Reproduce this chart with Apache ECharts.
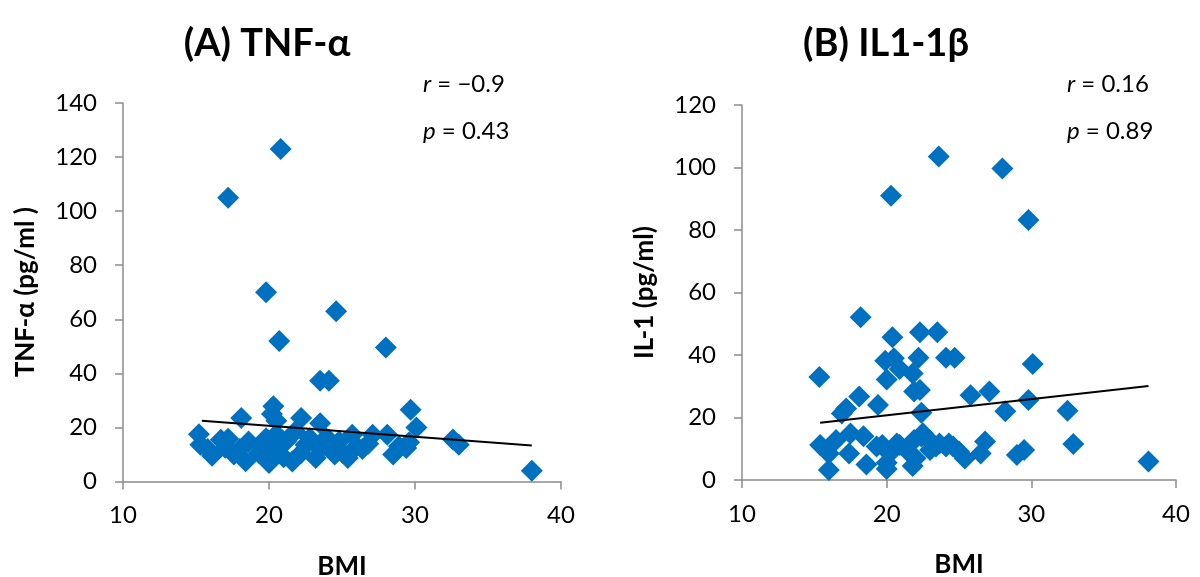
<!DOCTYPE html>
<html>
<head>
<meta charset="utf-8">
<script src="https://cdn.jsdelivr.net/npm/echarts@6/dist/echarts.min.js"></script>
<style>html,body{margin:0;padding:0;background:#fff}#c{width:1200px;height:577px}</style>
</head>
<body>
<div id="c"></div>
<script>
// ---- Data ----
const titleA = '(A) TNF-\u03b1';
const titleB = '(B) IL1-1\u03b2';
const xNameA = 'BMI';
const xNameB = 'BMI';
const yNameA = 'TNF-\u03b1 (pg/ml )';
const yNameB = 'IL-1 (pg/ml)';
const statsA = ['r = \u22120.9', 'p = 0.43'];
const statsB = ['r = 0.16', 'p = 0.89'];

// Panel A: [BMI, TNF-alpha]
const pointsA = [
  [20.8,123],[17.2,105],[19.8,70],[24.6,63],[20.7,52],[28.0,49.6],[23.5,37.3],[24.1,37.3],
  [20.3,27.8],[20.2,25],[18.1,23.5],[22.2,23.5],[23.5,21.5],[29.7,26.5],[30.1,20],[20.5,22.5],
  [15.2,17.5],[15.3,13.6],[15.8,12],[16.1,9.5],[16.7,15.4],[17.2,15.8],[17.6,10],[17.0,12.5],
  [18.4,7.5],[18.6,14.8],[18.0,12],[19.3,10.5],[19.8,16],[20.0,6.8],[19.5,13],[20.3,11],
  [20.7,13.6],[20.5,17.5],[21.0,9],[21.6,7.4],[21.8,18.5],[21.2,15],[22.5,13.6],[22.2,10.5],
  [22.8,16],[23.2,8.7],[23.5,12],[23.9,16.1],[24.1,15.4],[24.5,10],[24.8,14.8],[25.05,10.5],
  [25.4,8.7],[25.7,17.3],[26.0,13],[26.4,12],[26.8,14],[27.1,17.3],[28.1,17.3],[28.5,10],
  [28.9,13],[29.4,12.4],[29.6,14.5],[32.6,15.5],[33.0,13.6],[38.0,4]
];
const trendA = [[15.4,22.5],[38.0,13.3]];

// Panel B: [BMI, IL-1]
const pointsB = [
  [23.6,103.5],[28.0,99.7],[20.3,91],[29.8,83.2],[18.2,52.1],[20.4,45.7],[22.3,47.3],[23.5,47.3],
  [22.2,39.1],[24.1,39.1],[24.7,39.1],[30.1,37.1],[19.9,38.2],[20.5,39],[20.9,35.5],[20.0,32.2],
  [21.8,34.1],[22.3,28.8],[21.9,28.3],[15.35,33],[18.1,26.7],[19.4,24],[17.2,22.9],[16.9,21.3],
  [22.4,21.5],[25.8,27.1],[27.1,28.3],[28.2,22],[29.8,25.6],[32.5,22.2],[32.9,11.5],[38.1,5.9],
  [29.0,8],[29.5,9.6],[26.8,12.3],[26.5,8.5],[25.4,6.9],[25.0,9.1],[24.1,10.7],[24.6,10.7],
  [15.4,11.2],[16.0,3.2],[16.5,12.8],[16.0,8.5],[17.4,8.5],[17.5,14.9],[18.4,14],[18.6,5],
  [19.3,10.7],[20.0,3.5],[19.7,11.2],[20.2,8.5],[20.7,11.7],[20.9,11.2],[21.8,4.5],[21.9,12.8],
  [22.4,13.9],[22.5,15],[23.0,9.6],[23.4,10.7],[23.65,11.7],[24.3,11.7],[20.0,5.5],[21.5,9],
  [22.0,7],[23.0,12.5]
];
const trendB = [[15.4,18.3],[38.1,30.1]];

const xTicks = {min: 10, max: 40, interval: 10};
const yTicksA = {min: 0, max: 140, interval: 20};
const yTicksB = {min: 0, max: 120, interval: 20};

// ---- Chart ----
const FONT = 'Lato, "Open Sans", sans-serif';
const AXIS_GREY = '#8c8c8c';
const BLUE = '#0070C0';

function xAxis(gridIndex, name, t) {
  return {
    type: 'value', gridIndex, min: t.min, max: t.max, interval: t.interval,
    name, nameLocation: 'middle', nameGap: 72,
    nameTextStyle: {fontFamily: FONT, fontWeight: 'bold', fontSize: 26, color: '#000'},
    axisLine: {show: true, lineStyle: {color: AXIS_GREY, width: 1.5}},
    axisTick: {show: true, inside: false, length: 8, lineStyle: {color: AXIS_GREY, width: 1.5}},
    axisLabel: {fontFamily: FONT, fontSize: 24, color: '#000', margin: 22},
    splitLine: {show: false}
  };
}
function yAxis(gridIndex, name, t) {
  return {
    type: 'value', gridIndex, min: t.min, max: t.max, interval: t.interval,
    name, nameLocation: 'middle', nameGap: 84, nameRotate: 90,
    nameTextStyle: {fontFamily: FONT, fontWeight: 'bold', fontSize: 26, color: '#000'},
    axisLine: {show: true, lineStyle: {color: AXIS_GREY, width: 1.5}},
    axisTick: {show: true, inside: false, length: 8, lineStyle: {color: AXIS_GREY, width: 1.5}},
    axisLabel: {fontFamily: FONT, fontSize: 24, color: '#000', margin: 26},
    splitLine: {show: false}
  };
}
function statText(x, y, s) {
  const parts = s.split(' ');
  return {
    type: 'text', x, y,
    style: {
      text: '{i|' + parts[0] + '} ' + parts.slice(1).join(' '),
      rich: {i: {fontStyle: 'italic', fontFamily: FONT, fontSize: 24, fill: '#000'}},
      font: '24px ' + FONT, fill: '#000', verticalAlign: 'middle', align: 'left'
    }
  };
}

const chart = echarts.init(document.getElementById('c'), null, {renderer: 'canvas'});
chart.setOption({
  backgroundColor: '#fff',
  animation: false,
  title: [
    {text: titleA, left: 262, top: 20, textAlign: 'center',
     textStyle: {fontFamily: FONT, fontWeight: 'bold', fontSize: 38, color: '#000'}},
    {text: titleB, left: 881, top: 20, textAlign: 'center',
     textStyle: {fontFamily: FONT, fontWeight: 'bold', fontSize: 38, color: '#000'}}
  ],
  grid: [
    {left: 123, width: 438, top: 103, height: 378.5, outerBoundsMode: 'none', containLabel: false},
    {left: 742, width: 434, top: 105, height: 375, outerBoundsMode: 'none', containLabel: false}
  ],
  xAxis: [xAxis(0, xNameA, xTicks), xAxis(1, xNameB, xTicks)],
  yAxis: [yAxis(0, yNameA, yTicksA), yAxis(1, yNameB, yTicksB)],
  series: [
    {type: 'scatter', xAxisIndex: 0, yAxisIndex: 0, data: pointsA, symbol: 'diamond',
     symbolSize: 22, itemStyle: {color: BLUE, opacity: 1}, z: 2},
    {type: 'line', xAxisIndex: 0, yAxisIndex: 0, data: trendA, symbol: 'none',
     lineStyle: {color: '#000', width: 2}, z: 3},
    {type: 'scatter', xAxisIndex: 1, yAxisIndex: 1, data: pointsB, symbol: 'diamond',
     symbolSize: 22, itemStyle: {color: BLUE, opacity: 1}, z: 2},
    {type: 'line', xAxisIndex: 1, yAxisIndex: 1, data: trendB, symbol: 'none',
     lineStyle: {color: '#000', width: 2}, z: 3}
  ],
  graphic: [
    statText(423, 84, statsA[0]),
    statText(423, 131, statsA[1]),
    statText(1067, 84, statsB[0]),
    statText(1067, 131, statsB[1])
  ]
});
</script>
</body>
</html>
